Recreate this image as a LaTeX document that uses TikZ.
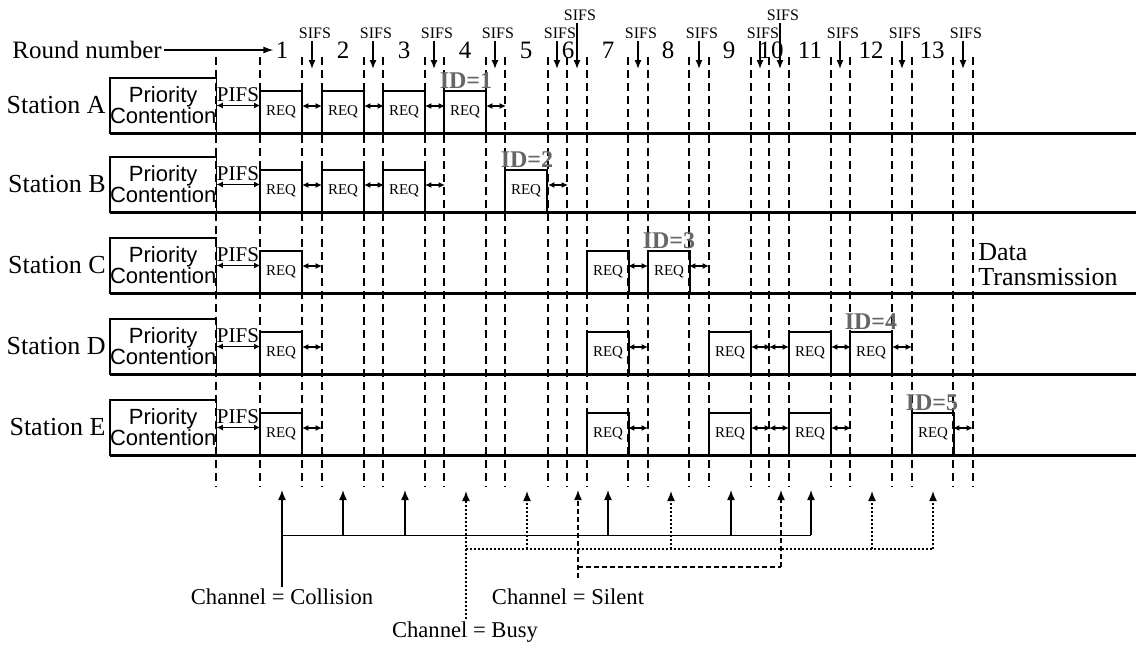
\documentclass[tikz,border=0pt]{standalone}
\usepackage{fontspec}
\setmainfont{Liberation Serif}
\newfontfamily\prioFont{Liberation Sans}
\usepackage{tikz}
\usetikzlibrary{arrows.meta, positioning}

\begin{document}
\begin{tikzpicture}[x=0.5pt, y=-0.5pt,
    slotline/.style={line width=0.9pt, dash pattern=on 4pt off 2.5pt},
    groundline/.style={line width=1.5pt},
    prio/.style={draw, line width=0.8pt, minimum width=52.5pt, minimum height=27.5pt,
                 inner sep=0pt, outer sep=0pt, align=center,
                 font=\prioFont\fontsize{11}{10.5}\selectfont},
    req/.style={draw, line width=0.6pt, minimum width=21pt, minimum height=21pt,
                inner sep=0pt, outer sep=0pt, font=\fontsize{7.5}{8}\selectfont},
    gaparrow/.style={{Latex[length=3.2pt,width=3pt]}-{Latex[length=3.2pt,width=3pt]},
                     line width=0.75pt},
    sifs/.style={font=\fontsize{8}{8}\selectfont, inner sep=1pt},
    sifsarrow/.style={-{Latex[length=4.5pt,width=3.5pt]}, line width=0.7pt},
    idlbl/.style={font=\bfseries\fontsize{12}{12}\selectfont, text=black!60, inner sep=1pt},
    chan/.style={font=\fontsize{11.3}{12}\selectfont, inner sep=1pt},
    chanarrow/.style={-{Latex[length=5pt,width=4pt]}, line width=0.75pt}]

  \useasboundingbox (0,0) rectangle (1136,644);

  % slot borders
  \foreach \x in {216,260,302,322,364,383,425,444,486,505,548,567,587,628,648,
                  689,709,751,769,789,831,850,892,912,953,973}
    \draw[slotline] (\x,57) -- (\x,487);

  % round numbers
  \node[anchor=west, inner sep=1pt, font=\fontsize{12.5}{13}\selectfont] (rnd) at (10,50) {Round number};
  \foreach \n/\x in {1/282, 2/343, 3/404, 4/465, 5/526, 6/568, 7/608,
                     8/668, 9/729, 10/771, 11/810, 12/871, 13/932}
    \node[inner sep=1pt, font=\fontsize{12.5}{13}\selectfont] (r\n) at (\x,50) {\n};
  \draw[-{Latex[length=5pt,width=3.5pt]}, line width=0.6pt] (rnd) -- (r1);

  % SIFS markers
  \foreach \x/\y [count=\i] in {312/33, 373/33, 434/33, 495/33, 557/33, 577/15, 638/33,
                                699/33, 760/33, 780/15, 840/33, 902/33, 963/33}
  {
    \node[sifs] (sf\i) at (\x+3,\y) {SIFS};
    \coordinate (sp\i) at (\x,69);
    \draw[sifsarrow] (sf\i.south -| sp\i) -- (sp\i);
  }

  % stations
  \foreach \s/\y/\reqs/\gaps/\idx/\idn in {
      A/133/{260,322,383,444}/{302,364,425,486}/466/1,
      B/212/{260,322,383,505}/{302,364,425,548}/527/2,
      C/293/{260,587,648}/{302,628,689}/669/3,
      D/374/{260,587,709,789,850}/{302,628,751,769,831,892}/871/4,
      E/455/{260,587,709,789,912}/{302,628,751,769,831,953}/932/5}
  {
    \draw[groundline] (110,\y) -- (1136,\y);
    \node[prio, anchor=south west] (pc\s) at (110,\y) {Priority\\Contention};
    \node[left=1pt of pc\s, inner sep=1pt, font=\fontsize{13}{13}\selectfont] (st\s) {Station \s};
    \node[inner sep=0pt, font=\fontsize{10.5}{11}\selectfont] (pifs\s) at (238,\y-38) {PIFS};
    \draw[gaparrow] (pc\s.east) -- ++(44,0);
    \foreach \x [count=\k] in \reqs
      \node[req, anchor=south west] (q\s\k) at (\x,\y) {REQ};
    \foreach \g in \gaps
      \draw[gaparrow] (\g,\y-27) -- (\g+20,\y-27);
    \node[idlbl, anchor=south] (id\s) at (\idx,\y-42) {ID=\idn};
  }

  \node[anchor=west, align=left, inner sep=0pt, font=\fontsize{13}{12.5}\selectfont]
    (data) at (978,265) {Data\\Transmission};

  % channel states
  \node[chan] (coll) at (282,597) {Channel = Collision};
  \node[chan] (busy) at (465,632) {Channel = Busy};
  \node[chan] (sil) at (568,597) {Channel = Silent};

  % collision
  \coordinate (collbus) at (282,535);
  \foreach \x [count=\i] in {282,343,405,608,731,811}
    \coordinate (coll\i) at (\x,490);
  \draw[chanarrow] (coll.north) -- (coll1);
  \draw[line width=0.5pt] (collbus) -- (collbus -| coll6);
  \foreach \i in {2,...,6}
    \draw[chanarrow] (collbus -| coll\i) -- (coll\i);

  % busy
  \coordinate (busybus) at (466,549);
  \foreach \x [count=\i] in {466,527,671,872,933}
    \coordinate (busy\i) at (\x,491);
  \draw[chanarrow, dash pattern=on 1pt off 1pt] (busy.north -| busy1) -- (busy1);
  \draw[line width=0.6pt, dash pattern=on 1pt off 1pt] (busybus) -- (busybus -| busy5);
  \foreach \i in {2,...,5}
    \draw[chanarrow, dash pattern=on 1pt off 1pt] (busybus -| busy\i) -- (busy\i);

  % silent
  \coordinate (silfoot) at (578,578);
  \coordinate (silbus) at (578,567);
  \coordinate (sil1) at (578,490);
  \coordinate (sil2) at (781,490);
  \draw[chanarrow, dash pattern=on 2.5pt off 1.5pt] (silfoot) -- (sil1);
  \draw[line width=0.6pt, dash pattern=on 2.5pt off 1.5pt] (silbus) -- (silbus -| sil2);
  \draw[chanarrow, dash pattern=on 2.5pt off 1.5pt] (silbus -| sil2) -- (sil2);
\end{tikzpicture}
\end{document}
